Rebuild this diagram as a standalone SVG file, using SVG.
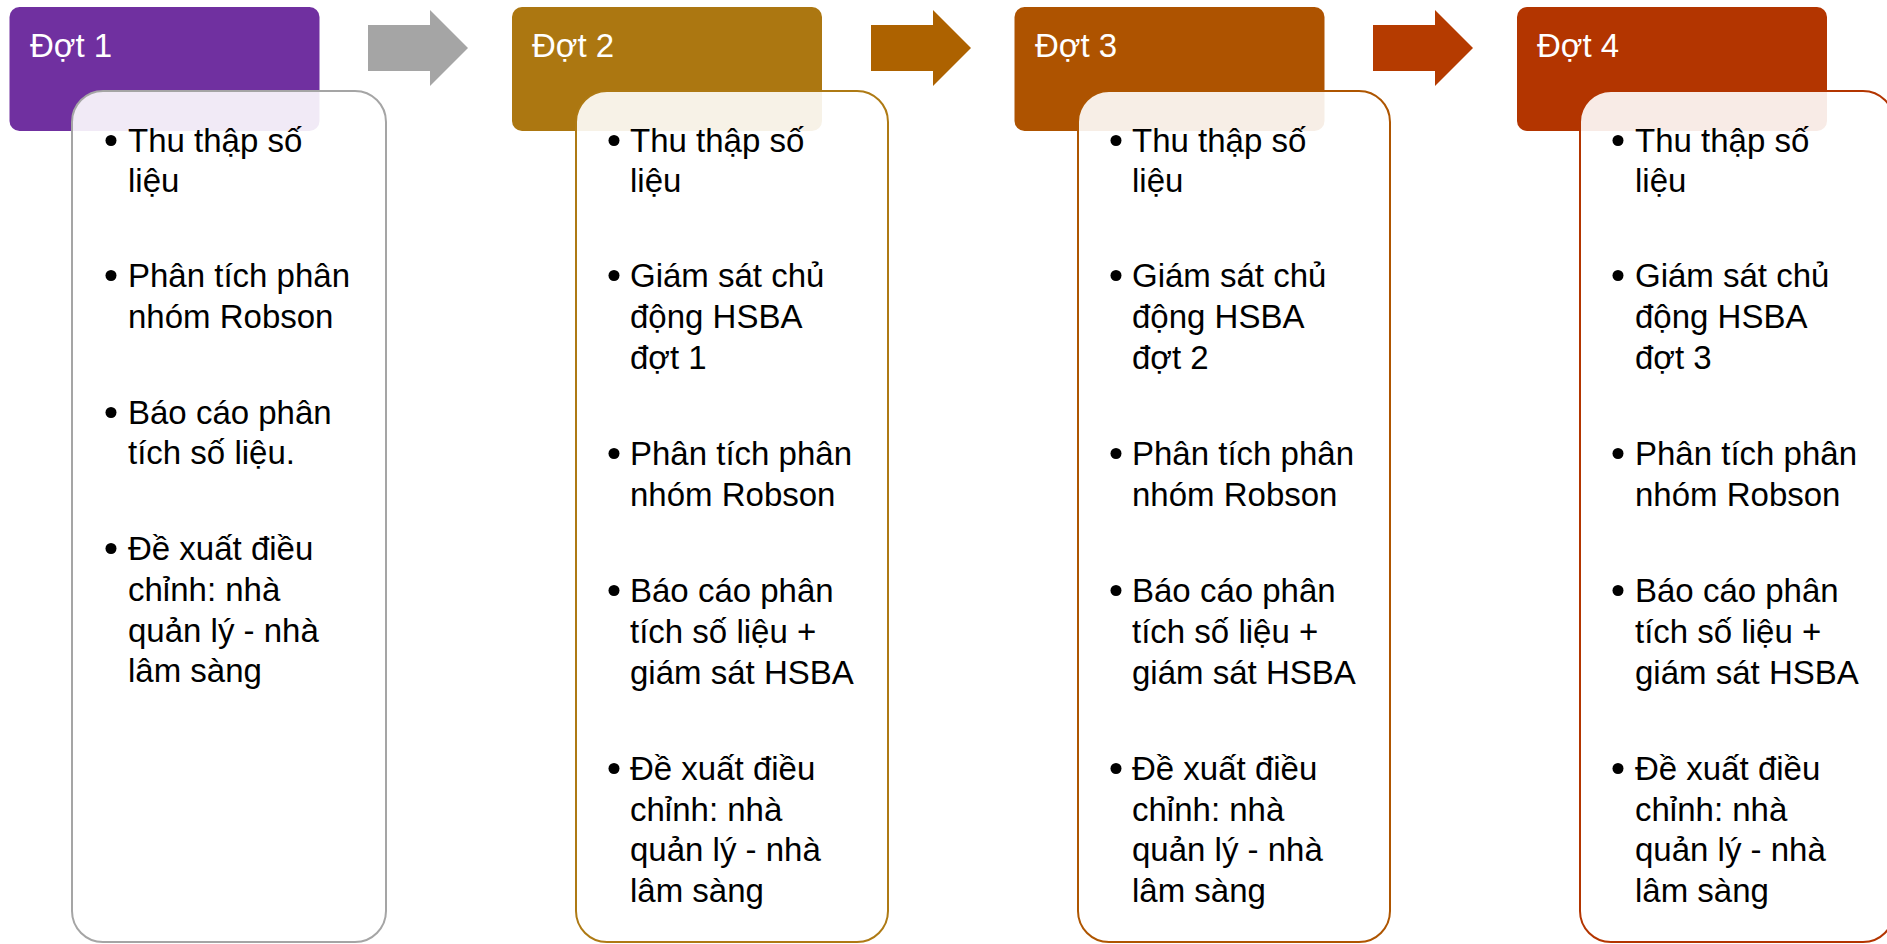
<svg xmlns="http://www.w3.org/2000/svg" width="1887" height="944" viewBox="0 0 1887 944">
<style>
.hdr-t{font-family:"Liberation Sans",Arial,sans-serif;font-size:33px;fill:#ffffff}
.t{font-family:"Liberation Sans",Arial,sans-serif;font-size:33px;fill:#000000}
.card{fill:#ffffff;fill-opacity:0.9;stroke-width:2}
.b{fill:#000000}
</style>
<rect width="1887" height="944" fill="#ffffff"/>
<g id="connectors">
<polygon points="368,25 430,25 430,10 468,48 430,86 430,71 368,71" fill="#A5A5A5"/>
<polygon points="871,25 933,25 933,10 971,48 933,86 933,71 871,71" fill="#AD6200"/>
<polygon points="1373,25 1435,25 1435,10 1473,48 1435,86 1435,71 1373,71" fill="#B53B00"/>
</g>
<g id="stage1">
<rect x="9.5" y="7" width="310" height="124" rx="10" fill="#7030A0"/>
<text class="hdr-t" x="30" y="57">Đợt 1</text>
<rect class="card" x="72" y="91" width="314" height="851" rx="31" stroke="#A5A5A5"/>
<circle class="b" cx="111" cy="140.5" r="5.5"/>
<circle class="b" cx="111" cy="275.5" r="5.5"/>
<circle class="b" cx="111" cy="412.5" r="5.5"/>
<circle class="b" cx="111" cy="548.5" r="5.5"/>
<text class="t" x="128" y="152">Thu thập số</text>
<text class="t" x="128" y="192">liệu</text>
<text class="t" x="128" y="287">Phân tích phân</text>
<text class="t" x="128" y="328">nhóm Robson</text>
<text class="t" x="128" y="424">Báo cáo phân</text>
<text class="t" x="128" y="464">tích số liệu.</text>
<text class="t" x="128" y="560">Đề xuất điều</text>
<text class="t" x="128" y="601">chỉnh: nhà</text>
<text class="t" x="128" y="642">quản lý - nhà</text>
<text class="t" x="128" y="682">lâm sàng</text>
</g>
<g id="stage2">
<rect x="512" y="7" width="310" height="124" rx="10" fill="#AC7711"/>
<text class="hdr-t" x="532" y="57">Đợt 2</text>
<rect class="card" x="576" y="91" width="312" height="851" rx="31" stroke="#AE7A14"/>
<circle class="b" cx="614" cy="140.5" r="5.5"/>
<circle class="b" cx="614" cy="275.5" r="5.5"/>
<circle class="b" cx="614" cy="453.5" r="5.5"/>
<circle class="b" cx="614" cy="590.5" r="5.5"/>
<circle class="b" cx="614" cy="768.5" r="5.5"/>
<text class="t" x="630" y="152">Thu thập số</text>
<text class="t" x="630" y="192">liệu</text>
<text class="t" x="630" y="287">Giám sát chủ</text>
<text class="t" x="630" y="328">động HSBA</text>
<text class="t" x="630" y="369">đợt 1</text>
<text class="t" x="630" y="465">Phân tích phân</text>
<text class="t" x="630" y="506">nhóm Robson</text>
<text class="t" x="630" y="602">Báo cáo phân</text>
<text class="t" x="630" y="643">tích số liệu +</text>
<text class="t" x="630" y="684">giám sát HSBA</text>
<text class="t" x="630" y="780">Đề xuất điều</text>
<text class="t" x="630" y="821">chỉnh: nhà</text>
<text class="t" x="630" y="861">quản lý - nhà</text>
<text class="t" x="630" y="902">lâm sàng</text>
</g>
<g id="stage3">
<rect x="1014.5" y="7" width="310" height="124" rx="10" fill="#AE5300"/>
<text class="hdr-t" x="1035" y="57">Đợt 3</text>
<rect class="card" x="1078" y="91" width="312" height="851" rx="31" stroke="#AE5500"/>
<circle class="b" cx="1116" cy="140.5" r="5.5"/>
<circle class="b" cx="1116" cy="275.5" r="5.5"/>
<circle class="b" cx="1116" cy="453.5" r="5.5"/>
<circle class="b" cx="1116" cy="590.5" r="5.5"/>
<circle class="b" cx="1116" cy="768.5" r="5.5"/>
<text class="t" x="1132" y="152">Thu thập số</text>
<text class="t" x="1132" y="192">liệu</text>
<text class="t" x="1132" y="287">Giám sát chủ</text>
<text class="t" x="1132" y="328">động HSBA</text>
<text class="t" x="1132" y="369">đợt 2</text>
<text class="t" x="1132" y="465">Phân tích phân</text>
<text class="t" x="1132" y="506">nhóm Robson</text>
<text class="t" x="1132" y="602">Báo cáo phân</text>
<text class="t" x="1132" y="643">tích số liệu +</text>
<text class="t" x="1132" y="684">giám sát HSBA</text>
<text class="t" x="1132" y="780">Đề xuất điều</text>
<text class="t" x="1132" y="821">chỉnh: nhà</text>
<text class="t" x="1132" y="861">quản lý - nhà</text>
<text class="t" x="1132" y="902">lâm sàng</text>
</g>
<g id="stage4">
<rect x="1517" y="7" width="310" height="124" rx="10" fill="#B33500"/>
<text class="hdr-t" x="1537" y="57">Đợt 4</text>
<rect class="card" x="1580" y="91" width="314" height="851" rx="31" stroke="#B33500"/>
<circle class="b" cx="1618" cy="140.5" r="5.5"/>
<circle class="b" cx="1618" cy="275.5" r="5.5"/>
<circle class="b" cx="1618" cy="453.5" r="5.5"/>
<circle class="b" cx="1618" cy="590.5" r="5.5"/>
<circle class="b" cx="1618" cy="768.5" r="5.5"/>
<text class="t" x="1635" y="152">Thu thập số</text>
<text class="t" x="1635" y="192">liệu</text>
<text class="t" x="1635" y="287">Giám sát chủ</text>
<text class="t" x="1635" y="328">động HSBA</text>
<text class="t" x="1635" y="369">đợt 3</text>
<text class="t" x="1635" y="465">Phân tích phân</text>
<text class="t" x="1635" y="506">nhóm Robson</text>
<text class="t" x="1635" y="602">Báo cáo phân</text>
<text class="t" x="1635" y="643">tích số liệu +</text>
<text class="t" x="1635" y="684">giám sát HSBA</text>
<text class="t" x="1635" y="780">Đề xuất điều</text>
<text class="t" x="1635" y="821">chỉnh: nhà</text>
<text class="t" x="1635" y="861">quản lý - nhà</text>
<text class="t" x="1635" y="902">lâm sàng</text>
</g>
</svg>
